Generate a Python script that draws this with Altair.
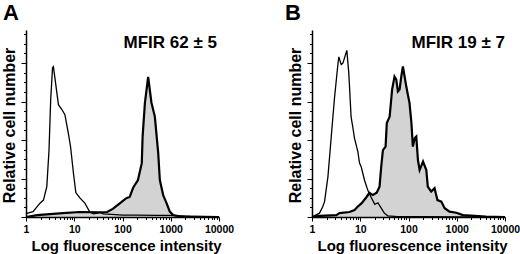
import altair as alt
import pandas as pd

FONT = "Liberation Sans"

# ---------------- data ----------------
# Panel A: control (open, thin line)
a_ctrl_x = [1.0, 1.4, 1.95, 2.3, 2.7, 3.0, 3.25, 3.55, 3.7, 4.7, 5.5, 6.4, 7.5, 8.4, 9.6,
            10.8, 13.2, 16.6, 21, 25, 30, 35, 40, 60, 100, 200, 500, 1000, 2000, 5000, 10000]
a_ctrl_y = [0.09, 0.14, 0.36, 0.44, 0.79, 1.74, 3.05, 3.88, 3.91, 2.92, 2.80, 2.66, 2.19, 1.82, 1.15,
            0.63, 0.49, 0.36, 0.13, 0.08, 0.10, 0.12, 0.08, 0.07, 0.05, 0.05, 0.04, 0.04, 0.02, 0.01, 0.0]
# Panel A: stained (filled grey, thick line)
a_stain_x = [1.0, 1.7, 5.8, 13, 34, 48, 63, 79, 102, 120, 141, 166, 209, 251, 261, 291, 340,
             398, 468, 550, 594, 697, 818, 955, 1122, 1500, 2500, 10000]
a_stain_y = [0.0, 0.05, 0.10, 0.13, 0.12, 0.13, 0.21, 0.31, 0.42, 0.49, 0.52, 0.76, 0.96, 1.40, 2.09, 2.96, 3.64,
             2.97, 2.61, 1.66, 0.96, 0.57, 0.36, 0.14, 0.05, 0.02, 0.01, 0.0]

# Panel B: control
b_ctrl_x = [1.0, 1.04, 1.43, 1.66, 1.82, 2.14, 2.51, 2.93, 3.43, 3.6, 4.04, 4.37, 5.27, 5.79, 6.46,
            7.08, 7.59, 8.91, 9.66, 10.5, 12.3, 14.5, 17.0, 20.0, 23.2, 27.2, 31.6, 37.2, 60, 200, 1000, 10000]
b_ctrl_y = [0.0, 0.01, 0.10, 0.26, 0.40, 1.05, 2.1, 3.1, 3.95, 4.16, 3.96, 4.0, 4.33, 3.74, 2.6,
            2.3, 2.05, 1.7, 1.4, 1.3, 0.95, 0.68, 0.5, 0.33, 0.37, 0.23, 0.10, 0.03, 0.01, 0.01, 0.0, 0.0]
# Panel B: stained
b_stain_x = [1.0, 1.45, 3.2, 3.7, 6.0, 7.6, 8.7, 10.7, 13.5, 15.5, 18.2, 21.9, 25.1, 27.2, 29.5, 33.5,
             35.5, 40.7, 45.7, 51.3, 55.8, 60.3, 65.3, 70.8, 76.6, 90, 105, 115, 123, 135, 145, 157,
             170, 200, 234, 251, 295, 347, 398, 479, 562, 708, 977, 1350, 2340, 4000, 10000]
b_stain_y = [0.0, 0.03, 0.05, 0.10, 0.13, 0.18, 0.26, 0.36, 0.52, 0.63, 0.57, 0.63, 0.79, 1.31, 1.74, 1.83,
             2.44, 2.61, 3.31, 3.65, 3.57, 3.26, 3.31, 3.65, 3.91, 3.39, 2.96, 2.44, 1.83, 2.05, 2.09, 1.48,
             1.22, 1.44, 1.22, 0.79, 0.66, 0.75, 0.44, 0.40, 0.23, 0.14, 0.11, 0.05, 0.03, 0.01, 0.0]

panel_letters = ["A", "B"]
mfir_labels = ["MFIR 62 \u00b1 5", "MFIR 19 \u00b1 7"]
x_title = "Log fluorescence intensity"
y_title = "Relative cell number"

X_MAJOR = [1, 10, 100, 1000, 10000]
X_MINOR = [m * d for d in [1, 10, 100, 1000] for m in range(2, 10)]
Y_MAJOR = [0, 1, 2, 3, 4]
Y_MINOR = [0.25, 0.5, 0.75, 1.25, 1.5, 1.75, 2.25, 2.5, 2.75, 3.25, 3.5, 3.75, 4.25, 4.5, 4.75]

W, H = 193, 187


def panel(cx, cy, sx, sy, letter, mfir, letter_x, mfir_x):
    ctrl = pd.DataFrame({"intensity": cx, "count": cy})
    stain = pd.DataFrame({"intensity": sx, "count": sy})
    xsc = alt.Scale(type="log", domain=[1, 10000], nice=False)
    ysc = alt.Scale(domain=[0, 4.86], nice=False, zero=False)

    x_major = alt.Axis(orient="bottom", values=X_MAJOR, format="d", grid=False,
                       labelFont=FONT, labelFontSize=10.5, labelFontWeight="bold", labelColor="black",
                       labelPadding=3, labelFlush=False, labelOverlap=False,
                       tickSize=4, tickColor="black", tickWidth=1,
                       domainColor="black", domainWidth=1.5, zindex=1,
                       title=x_title, titleFont=FONT, titleFontSize=15, titleFontWeight="bold",
                       titleColor="black", titleX=100, titleY=33, titleAlign="center",
                       titleBaseline="alphabetic")
    x_minor = alt.Axis(orient="bottom", values=X_MINOR, grid=False, labels=False, domain=False,
                       tickSize=2.5, tickColor="black", tickWidth=1, zindex=1, title=None)
    y_major = alt.Axis(orient="left", values=Y_MAJOR, grid=False, labels=False,
                       tickSize=5, tickColor="black", tickWidth=1,
                       domainColor="black", domainWidth=1.5, zindex=1,
                       title=y_title, titleFont=FONT, titleFontSize=16, titleFontWeight="bold",
                       titleColor="black", titleX=-17, titleY=95, titleAngle=270,
                       titleAlign="center", titleBaseline="middle")
    y_minor = alt.Axis(orient="left", values=Y_MINOR, grid=False, labels=False, domain=False,
                       tickSize=2.5, tickColor="black", tickWidth=1, zindex=1, title=None)

    area = alt.Chart(stain).mark_area(color="#d3d3d3", interpolate="linear").encode(
        x=alt.X("intensity:Q", scale=xsc, axis=x_major),
        y=alt.Y("count:Q", scale=ysc, axis=y_major),
    )
    thin = alt.Chart(ctrl).mark_line(color="black", strokeWidth=1.3).encode(
        x=alt.X("intensity:Q", scale=xsc, axis=x_minor),
        y=alt.Y("count:Q", scale=ysc, axis=y_minor),
    )
    thick = alt.Chart(stain).mark_line(color="black", strokeWidth=2.2).encode(
        x=alt.X("intensity:Q", scale=xsc, axis=None),
        y=alt.Y("count:Q", scale=ysc, axis=None),
    )
    let = alt.Chart(pd.DataFrame({"t": [letter]})).mark_text(
        align="left", baseline="alphabetic", font=FONT, fontSize=22, fontWeight="bold", color="black"
    ).encode(x=alt.value(letter_x), y=alt.value(-10), text="t:N")
    mf = alt.Chart(pd.DataFrame({"t": [mfir]})).mark_text(
        align="right", baseline="alphabetic", font=FONT, fontSize=17, fontWeight="bold", color="black"
    ).encode(x=alt.value(mfir_x), y=alt.value(17.5), text="t:N")

    return alt.layer(area, thin, thick, let, mf).resolve_axis(
        x="independent", y="independent"
    ).properties(width=W, height=H)


pA = panel(a_ctrl_x, a_ctrl_y, a_stain_x, a_stain_y, panel_letters[0], mfir_labels[0], -23, 191)
pB = panel(b_ctrl_x, b_ctrl_y, b_stain_x, b_stain_y, panel_letters[1], mfir_labels[1], -27, 193)

chart = alt.hconcat(pA, pB, spacing=93, bounds="flush").properties(
    autosize=alt.AutoSizeParams(type="none"),
    padding={"left": 26, "top": 30, "right": 494, "bottom": 224},
).configure_view(strokeWidth=0)

chart.save("out.html", embed_options={"renderer": "svg", "actions": False})
